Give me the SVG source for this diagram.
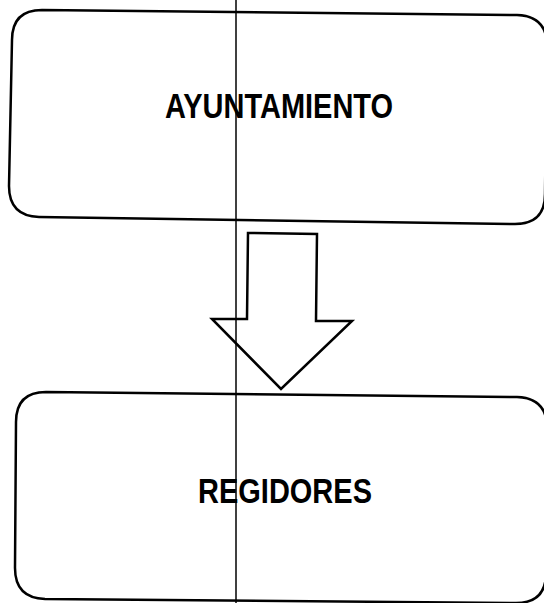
<svg xmlns="http://www.w3.org/2000/svg" width="544" height="603" viewBox="0 0 544 603">
<style>
.box{fill:#fff;stroke:#000;stroke-width:2.5}
.lbl{font-family:"Liberation Sans",Arial,sans-serif;font-weight:bold;font-size:29px;fill:#000;text-anchor:middle}
.arrow{fill:#fff;stroke:#000;stroke-width:2.5;stroke-linejoin:miter}
.line{stroke:#000;stroke-width:1.5}
</style>
<rect width="544" height="603" fill="#fff"/>
<g id="ayuntamiento">
<path class="box" d="M42 10 L517 15 Q547 16 547 46 L545 194 Q545 224 515 224 L39 217 Q9 216 9 186 L12 40 Q12 10 42 10 Z"/>
<text class="lbl" transform="translate(279,118) scale(1,1.18)">AYUNTAMIENTO</text>
</g>
<g id="regidores">
<path class="box" d="M46 392 L517 397 Q547 398 547 428 L546 573 Q546 603 516 603 L45 599 Q15 598 15 568 L16 422 Q16 392 46 392 Z"/>
<text class="lbl" transform="translate(285,503) scale(1,1.18)">REGIDORES</text>
</g>
<g id="connectors">
<path class="arrow" d="M248 233 L317 234 L316 321 L352 321 L281 389 L212 319 L247 319 Z"/>
<line class="line" x1="236" y1="0" x2="236" y2="603"/>
</g>
</svg>
